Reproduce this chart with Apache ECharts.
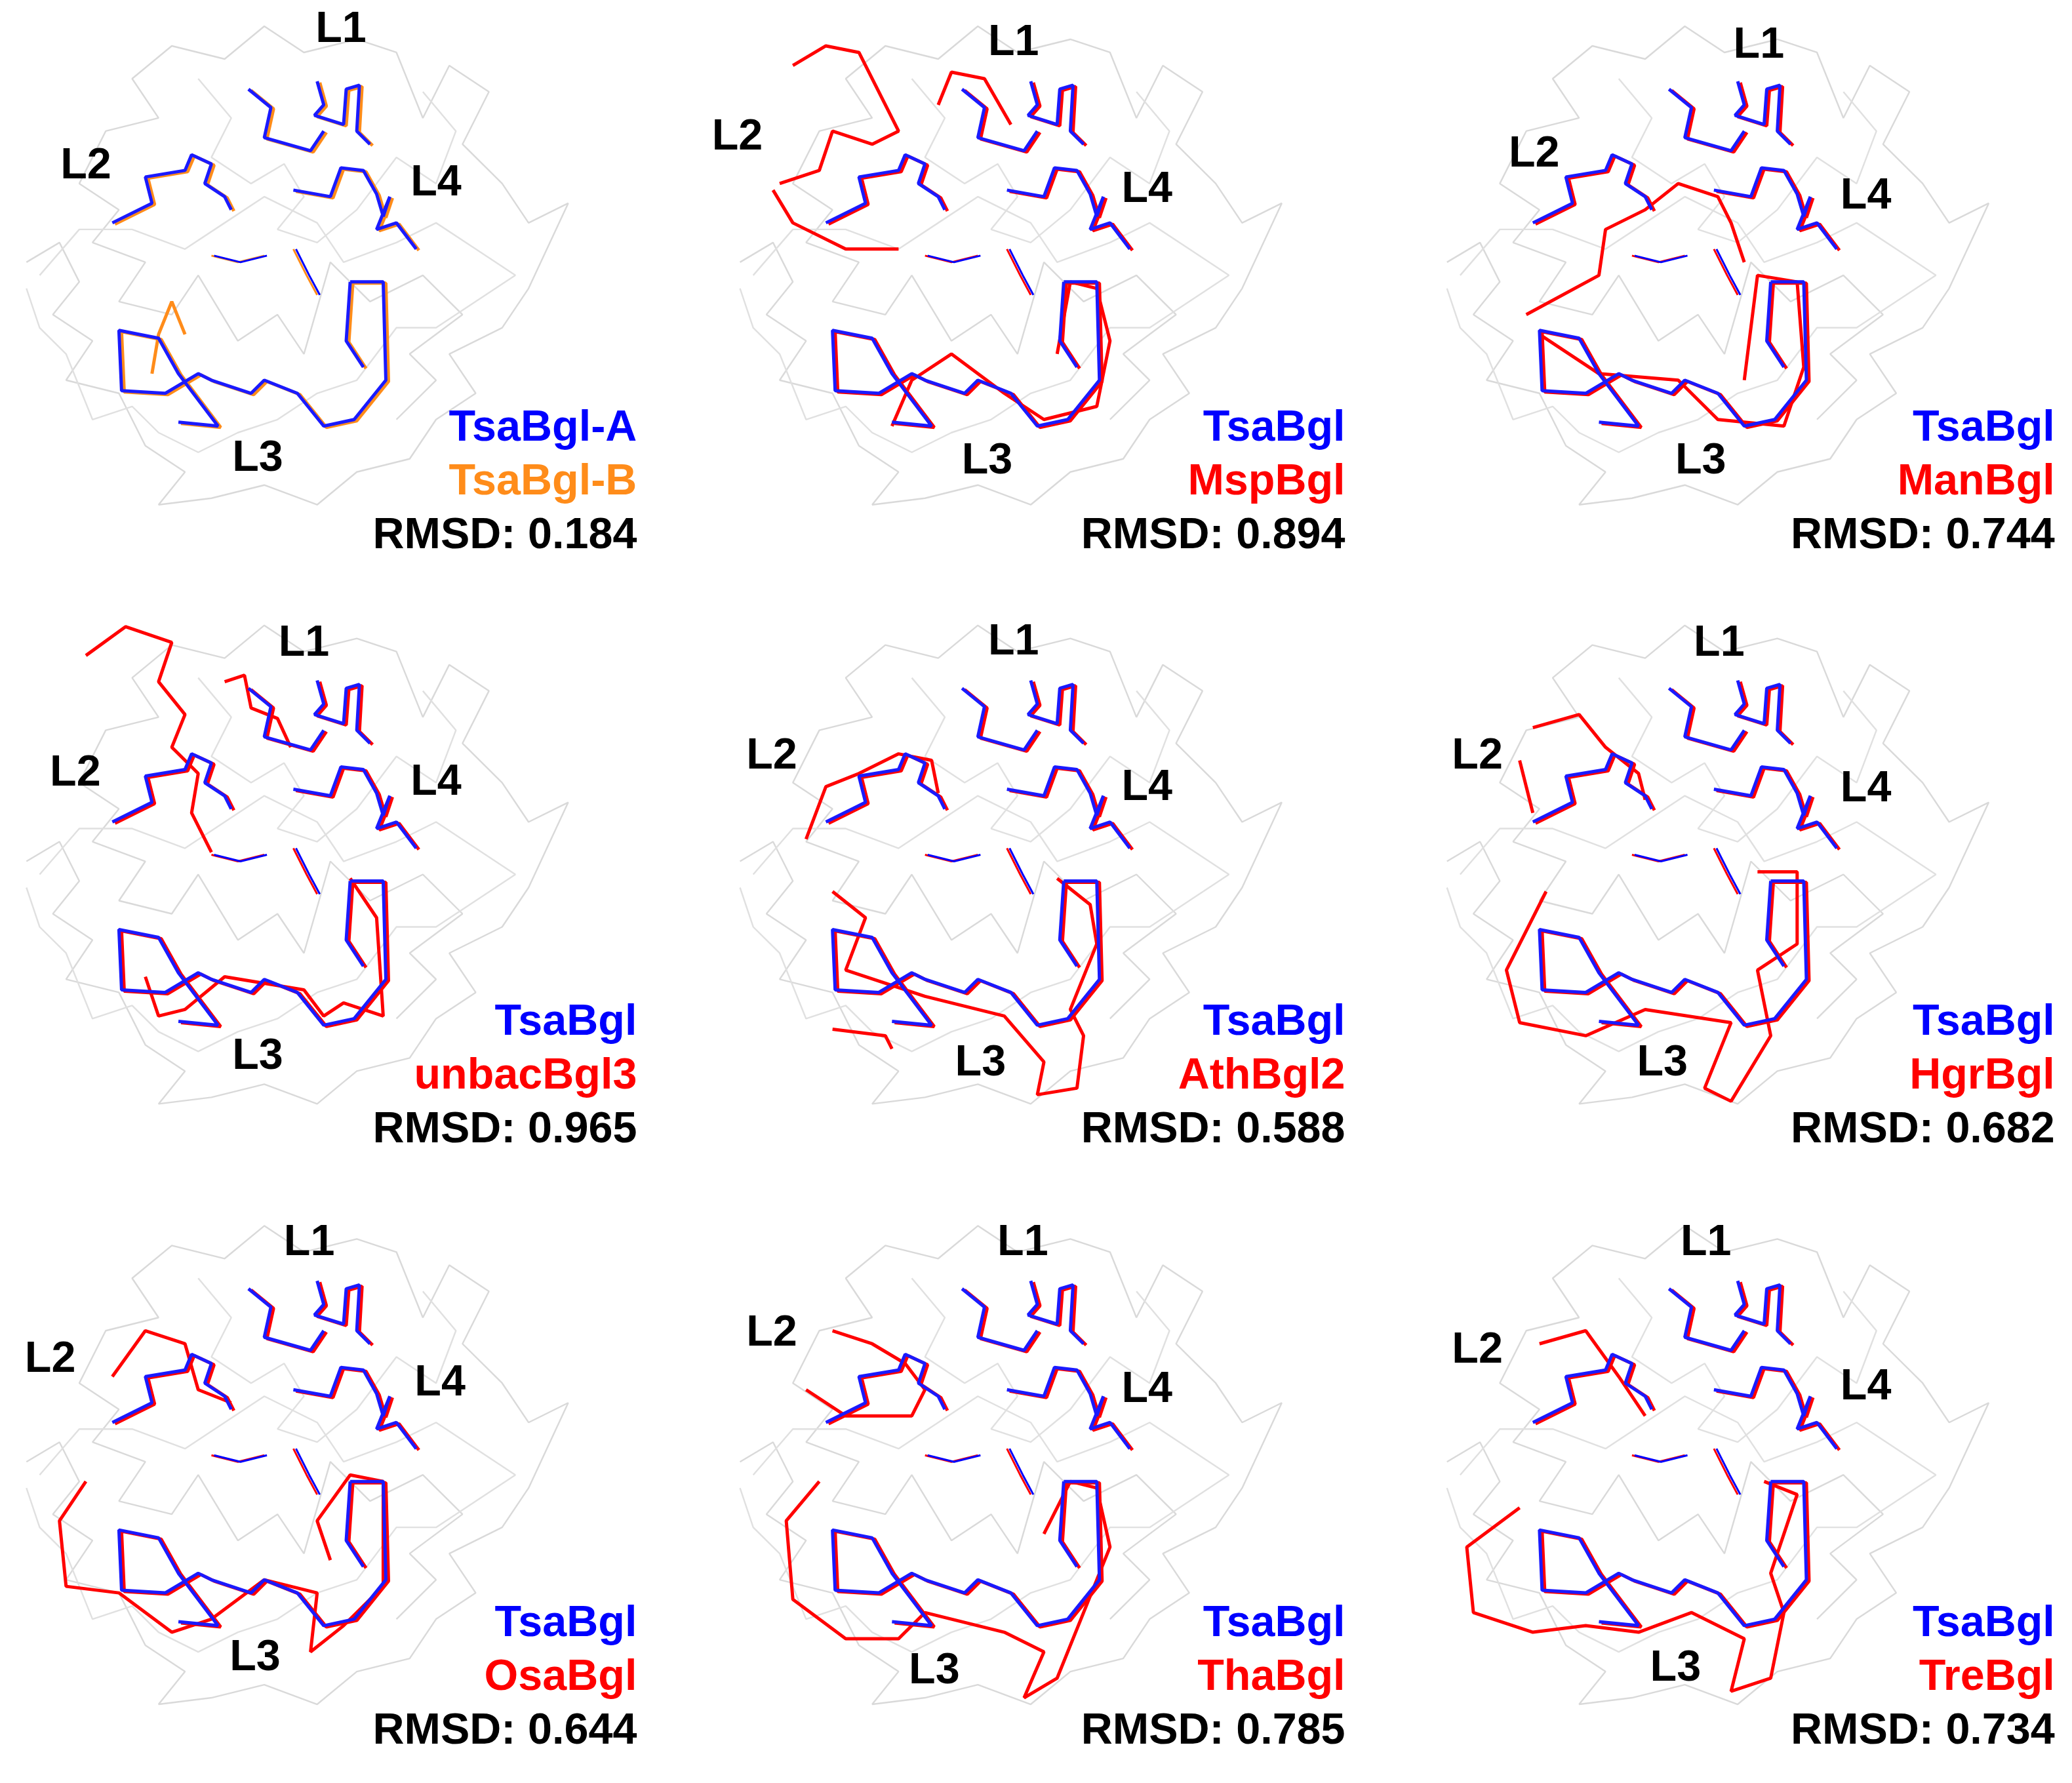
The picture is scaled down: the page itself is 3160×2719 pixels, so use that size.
<!DOCTYPE html>
<html lang="en">
<head>
<meta charset="UTF-8">
<title>Loop superposition</title>
<script src="https://cdn.jsdelivr.net/npm/echarts@6/dist/echarts.min.js"></script>
<style>html,body{margin:0;background:#fff;}</style>
</head>
<body>
<div id="main" style="width:3160px;height:2719px;"></div>
<script type="text/javascript">
// panel-local coordinates (image pixels of the 1568x1360 figure)
var grayTrace1 = [[20,200],[45,185],[60,215],[40,240],[70,260],[50,290],[90,300],[110,340],[140,360],[120,385],[160,380],[200,370],[240,385],[270,360],[310,350],[330,320],[360,300],[340,270],[380,250],[400,220],[430,155],[400,170],[380,140],[350,110],[370,70],[340,50],[320,90],[300,40],[270,30],[230,40],[200,20],[170,45],[130,35],[100,60],[120,90],[80,100],[60,140],[90,160],[70,185],[110,200],[90,230],[130,240],[150,210],[180,260],[210,240],[230,270],[250,200],[280,230],[320,210],[350,240],[310,270],[330,290],[300,320]];
var grayTrace2 = [[30,210],[60,175],[100,175],[140,190],[170,170],[200,150],[240,170],[260,200],[300,185],[330,170],[360,190],[390,210],[360,230],[330,250],[300,250],[270,290],[240,300],[210,320],[180,330],[150,345],[120,330],[100,310],[70,320],[50,270],[30,250],[20,220]];
var grayTrace3 = [[150,60],[175,90],[160,120],[190,140],[215,125],[230,150],[210,175],[240,185],[270,160],[300,120],[330,140],[345,100],[320,70]];
var ligands = [[[160,195],[180,200],[200,195]], [[222,190],[232,210],[240,225]]];

var blueL1 = [[240,62],[245,80],[238,88],[260,95],[262,68],[272,65],[270,100],[280,110]];
var blueL1b = [[188,68],[205,82],[200,105],[235,115],[245,100]];
var blueL2 = [[85,170],[115,155],[110,135],[140,130],[145,118],[160,125],[155,140],[170,150],[175,160]];
var blueL4 = [[222,145],[250,150],[258,128],[275,130],[285,148],[290,165],[295,150],[285,175],[300,170],[315,190]];
var blueL3 = [[265,215],[290,215],[292,290],[268,320],[245,325],[225,300],[200,290],[190,300],[160,290],[150,285],[125,300],[92,298],[90,252],[120,258],[135,285],[165,325],[135,322]];
var blueStub = [[265,215],[262,260],[275,280]];
var blueLoops = [blueL1, blueL1b, blueL2, blueL4, blueL3, blueStub];

var panelNames = ['TsaBgl-B','MspBgl','ManBgl','unbacBgl3','AthBgl2','HgrBgl','OsaBgl','ThaBgl','TreBgl'];
var refNames = ['TsaBgl-A','TsaBgl','TsaBgl','TsaBgl','TsaBgl','TsaBgl','TsaBgl','TsaBgl','TsaBgl'];
var rmsd = ['0.184','0.894','0.744','0.965','0.588','0.682','0.644','0.785','0.734'];
var colOffset = [0, 540, 1075];
var rowOffset = [0, 457, 915];

// absolute label positions L1, L2, L4, L3
var loopLabels = [
  [[258,23],[65,127],[330,140],[195,350]],
  [[767,33],[558,105],[868,145],[747,352]],
  [[1331,35],[1161,118],[1412,150],[1287,352]],
  [[230,491],[57,590],[330,597],[195,806]],
  [[767,490],[584,577],[868,601],[742,811]],
  [[1301,491],[1118,577],[1412,602],[1258,811]],
  [[234,948],[38,1037],[333,1055],[193,1265]],
  [[774,948],[584,1017],[868,1060],[707,1275]],
  [[1291,948],[1118,1030],[1412,1058],[1268,1273]]
];
var legendRight = [482, 1018, 1555];
var legendY = [[327,368,409],[780,821,862],[1239,1280,1321]];

// distinctive second-structure loops (panel-local)
var extraLoops = [
  [[[115,285],[120,255],[130,230],[140,255]]],
  [[[45,145],[60,170],[100,190],[140,190]],[[60,50],[85,35],[110,40],[120,60],[140,100],[120,110],[90,100],[80,130],[50,140]],[[170,80],[180,55],[205,60],[225,95]],[[135,325],[150,290],[180,270],[220,300],[250,320],[290,310],[300,260],[290,220],[270,215],[260,270]]],
  [[[80,240],[135,210],[140,175],[170,160],[195,140],[225,150],[235,170],[245,200]],[[90,255],[135,285],[195,290],[225,320],[275,325],[290,280],[285,215],[255,210],[245,290]]],
  [[[65,43],[95,21],[130,33],[120,63],[140,88],[130,113],[150,133],[145,163],[160,193]],[[170,63],[185,58],[190,83],[210,91],[220,113]],[[110,288],[120,318],[140,313],[170,288],[230,298],[245,318],[260,308],[290,318],[285,243],[265,213]]],
  [[[70,183],[85,143],[110,133],[140,118],[165,123],[170,148]],[[90,223],[115,243],[100,283],[160,303],[220,318],[250,353],[245,378],[275,373],[280,333],[270,313],[290,263],[285,233],[260,213]],[[90,328],[130,333],[135,343]]],
  [[[85,98],[120,88],[140,113],[165,133],[170,153]],[[75,123],[85,163]],[[95,223],[65,283],[75,323],[125,333],[170,313],[235,323],[215,373],[235,383],[265,333],[255,283],[285,263],[285,208],[255,208]]],
  [[[85,135],[110,100],[140,110],[150,145],[175,155]],[[65,215],[45,245],[50,295],[90,300],[130,330],[160,320],[200,290],[240,300],[235,345],[260,325],[290,295],[290,215],[265,210],[240,245],[250,275]]],
  [[[90,100],[120,110],[145,125],[160,145],[150,165],[100,165],[70,145]],[[80,215],[55,245],[60,305],[100,335],[140,335],[160,315],[220,330],[250,345],[235,380],[260,365],[280,315],[300,265],[290,220],[270,215],[250,255]]],
  [[[90,110],[125,100],[150,135],[170,165]],[[75,235],[35,265],[40,315],[85,330],[125,325],[165,330],[205,315],[245,335],[235,375],[265,365],[275,315],[265,285],[285,225],[260,215]]]
];

var S = 3160 / 1568;
var series = [];
function addLine(pts, dx, dy, color, w, z) {
  series.push({
    type: 'line', data: pts.map(function (p) { return [p[0] + dx, p[1] + dy]; }),
    symbol: 'none', lineStyle: {color: color, width: w, opacity: 1}, z: z, silent: true, animation: false
  });
}
function addText(x, y, text, color, align) {
  series.push({
    type: 'scatter', symbolSize: 0, z: 10, animation: false, silent: true,
    itemStyle: {opacity: 1},
    data: [[x, y]],
    label: {show: true, position: 'inside', formatter: text, color: color, opacity: 1, align: align,
      verticalAlign: 'middle', fontFamily: 'Liberation Sans', fontWeight: 'bold', fontSize: 33 * S}
  });
}
for (var i = 0; i < 9; i++) {
  var dx = colOffset[i % 3], dy = rowOffset[Math.floor(i / 3)];
  var second = i === 0 ? '#ff8c1a' : '#ff0000';
  addLine(grayTrace1, dx, dy, '#d9d9d9', 2.4, 1);
  addLine(grayTrace2, dx, dy, '#e0e0e0', 2.4, 1);
  addLine(grayTrace3, dx, dy, '#e0e0e0', 2.4, 1);
  ligands.forEach(function (l) { addLine(l, dx, dy, second, 3, 3); addLine(l, dx + 2, dy, '#0000ff', 3, 3); });
  blueLoops.forEach(function (l) { addLine(l, dx + 2, dy + 1, second, 5, 3); });
  extraLoops[i].forEach(function (l) { addLine(l, dx, dy, second, 5, 3); });
  blueLoops.forEach(function (l) { addLine(l, dx, dy, '#1a1aff', 5, 4); });
  ['L1','L2','L4','L3'].forEach(function (t, k) {
    addText(loopLabels[i][k][0], loopLabels[i][k][1], t, '#000000', 'center');
  });
  var lx = legendRight[i % 3], ly = legendY[Math.floor(i / 3)];
  addText(lx, ly[0], refNames[i], '#0000ff', 'right');
  addText(lx, ly[1], panelNames[i], second, 'right');
  addText(lx, ly[2], 'RMSD: ' + rmsd[i], '#000000', 'right');
}

var chart = echarts.init(document.getElementById('main'));
chart.setOption({
  backgroundColor: '#fff',
  animation: false,
  grid: {left: 0, right: 0, top: 0, bottom: 0},
  xAxis: {type: 'value', min: 0, max: 1568, show: false},
  yAxis: {type: 'value', min: 0, max: 1360, inverse: true, show: false},
  series: series
});
</script>
</body>
</html>
